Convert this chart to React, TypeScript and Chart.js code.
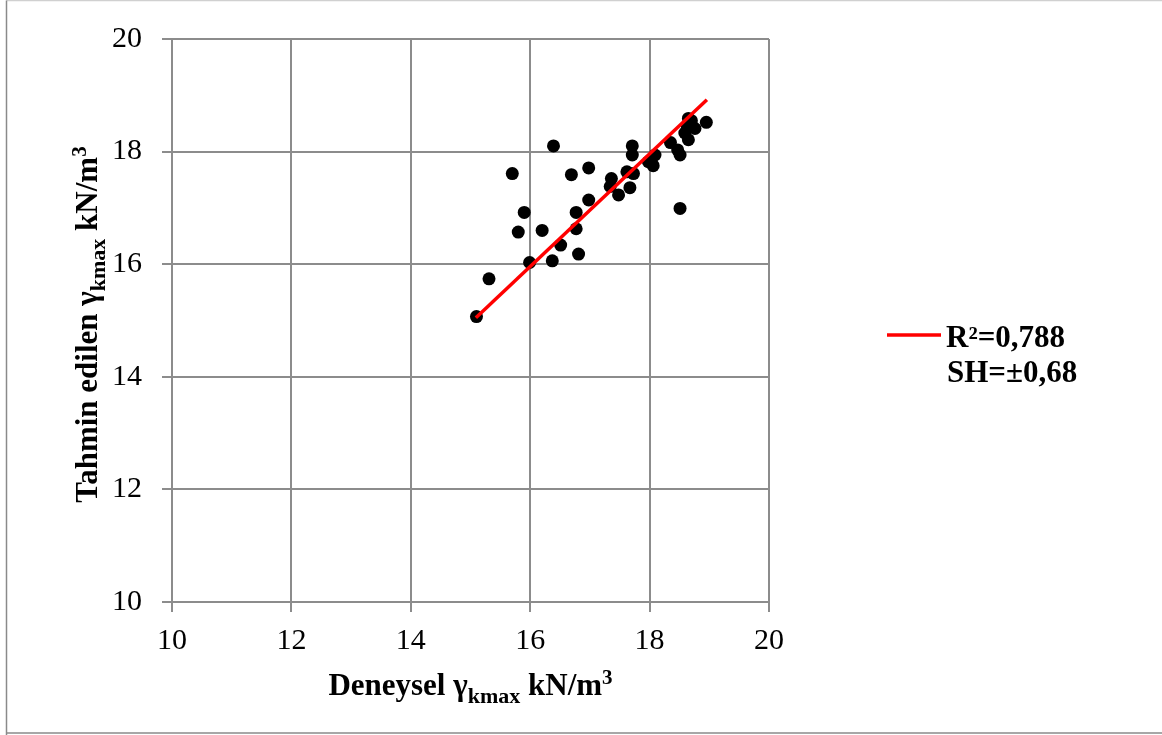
import React, { useEffect, useRef } from "react";
import { Chart, registerables } from "chart.js";

Chart.register(...registerables);

// Measured vs. predicted maximum dry unit weight (kN/m³)
const deneysel: number[] = [
  15.10, 15.31, 15.70, 15.80, 15.90, 15.99, 16.20, 16.37, 16.39, 16.51,
  16.69, 16.77, 16.77, 16.81, 16.98, 16.98, 17.36, 17.34, 17.48, 17.62,
  17.73, 17.67, 17.71, 17.71, 17.98, 18.09, 18.06, 18.02, 18.35, 18.47,
  18.51, 18.51, 18.65, 18.63, 18.76, 18.65, 18.59, 18.95, 18.70,
];
const tahmin: number[] = [
  15.07, 15.74, 17.61, 16.57, 16.92, 16.03, 16.60, 16.06, 18.10, 16.34,
  17.59, 16.92, 16.63, 16.18, 17.71, 17.14, 17.52, 17.38, 17.23, 17.64,
  17.61, 17.36, 18.10, 17.94, 17.82, 17.94, 17.75, 17.85, 18.16, 18.03,
  17.94, 16.99, 18.59, 18.45, 18.41, 18.21, 18.33, 18.52, 18.55,
];

// Fitted trend line end points
const trendX: number[] = [15.09, 18.96];
const trendY: number[] = [15.05, 18.92];

const axisMin = 10;
const axisMax = 20;
const axisStep = 2;

const legendLines: string[] = ["R²=0,788", "SH=±0,68"];

const SERIF = "'Liberation Serif', 'Times New Roman', serif";

type Part = { text: string; size: number; dy: number };

function drawRich(ctx: CanvasRenderingContext2D, parts: Part[], cx: number, baseline: number) {
  let total = 0;
  const widths = parts.map((p) => {
    ctx.font = `bold ${p.size}px ${SERIF}`;
    const w = ctx.measureText(p.text).width;
    total += w;
    return w;
  });
  let x = cx - total / 2;
  ctx.textAlign = "left";
  ctx.textBaseline = "alphabetic";
  parts.forEach((p, i) => {
    ctx.font = `bold ${p.size}px ${SERIF}`;
    ctx.fillText(p.text, x, baseline + p.dy);
    x += widths[i];
  });
}

function titleParts(lead: string): Part[] {
  return [
    { text: lead + " γ", size: 31, dy: 0 },
    { text: "kmax", size: 22, dy: 8 },
    { text: " kN/m", size: 31, dy: 0 },
    { text: "3", size: 21, dy: -11 },
  ];
}

const decorPlugin = {
  id: "decor",
  afterDraw(chart: any) {
    const ctx: CanvasRenderingContext2D = chart.ctx;
    ctx.save();
    // outer frame
    ctx.lineWidth = 1.5;
    ctx.strokeStyle = "#d0d0d0";
    ctx.beginPath();
    ctx.moveTo(6.5, 0.5);
    ctx.lineTo(1170, 0.5);
    ctx.stroke();
    ctx.strokeStyle = "#8a8a8a";
    ctx.beginPath();
    ctx.moveTo(6.5, 740);
    ctx.lineTo(6.5, 0.5);
    ctx.stroke();
    ctx.beginPath();
    ctx.moveTo(6.5, 733);
    ctx.lineTo(1170, 733);
    ctx.stroke();

    ctx.fillStyle = "#000";
    // x-axis title
    drawRich(ctx, titleParts("Deneysel"), 470.5, 695);
    // y-axis title
    ctx.save();
    ctx.translate(97, 324.5);
    ctx.rotate(-Math.PI / 2);
    drawRich(ctx, titleParts("Tahmin edilen"), 0, 0);
    ctx.restore();

    // legend
    ctx.strokeStyle = "#ff0000";
    ctx.lineWidth = 3.5;
    ctx.beginPath();
    ctx.moveTo(887, 335);
    ctx.lineTo(941, 335);
    ctx.stroke();
    ctx.font = `bold 31px ${SERIF}`;
    ctx.textAlign = "left";
    ctx.textBaseline = "alphabetic";
    ctx.fillText(legendLines[0], 946, 347);
    ctx.fillText(legendLines[1], 947, 382);
    ctx.restore();
  },
};

export default function App() {
  const ref = useRef<HTMLCanvasElement | null>(null);

  useEffect(() => {
    if (!ref.current) return;
    const gridColor = "#8c8c8c";
    const tickFont = { family: SERIF, size: 30 };
    const chart = new Chart(ref.current, {
      type: "scatter",
      data: {
        datasets: [
          {
            label: "trend",
            data: trendX.map((x, i) => ({ x, y: trendY[i] })),
            showLine: true,
            borderColor: "#ff0000",
            borderWidth: 3.5,
            pointRadius: 0,
            order: 0,
          },
          {
            label: "veri",
            data: deneysel.map((x, i) => ({ x, y: tahmin[i] })),
            backgroundColor: "#000",
            borderColor: "#000",
            pointRadius: 6.5,
            pointBorderWidth: 0,
            order: 1,
          },
        ],
      },
      options: {
        responsive: false,
        animation: false,
        layout: { padding: { top: 39, right: 393, left: 0, bottom: 0 } },
        plugins: {
          legend: { display: false },
          tooltip: { enabled: false },
        },
        scales: {
          x: {
            type: "linear",
            min: axisMin,
            max: axisMax,
            ticks: { stepSize: axisStep, font: tickFont, color: "#000", padding: 11, maxRotation: 0 },
            grid: { color: gridColor, lineWidth: 2, tickLength: 10 },
            border: { color: gridColor, width: 2 },
            afterFit: (s: any) => {
              s.height = 133;
            },
          },
          y: {
            type: "linear",
            min: axisMin,
            max: axisMax,
            ticks: { stepSize: axisStep, font: tickFont, color: "#000", padding: 20 },
            grid: { color: gridColor, lineWidth: 2, tickLength: 10 },
            border: { color: gridColor, width: 2 },
            afterFit: (s: any) => {
              s.width = 172;
            },
          },
        },
      },
      plugins: [decorPlugin],
    });
    return () => chart.destroy();
  }, []);

  return (
    <div style={{ position: "absolute", left: 0, top: 0, width: 1162, height: 735, background: "#fff" }}>
      <canvas ref={ref} width={1162} height={735} />
    </div>
  );
}
